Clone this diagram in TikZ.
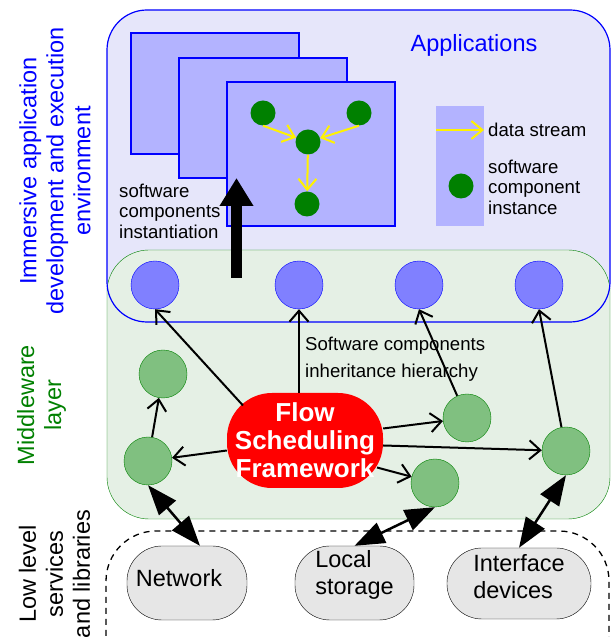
\documentclass[tikz,border=0pt]{standalone}
\usepackage{fontspec}
\setmainfont{Liberation Sans}
\usepackage{xcolor}
\usepackage{tikz}
\usetikzlibrary{arrows.meta}

\definecolor{appbg}{RGB}{230,230,250}
\definecolor{midbg}{RGB}{229,240,229}
\definecolor{winfill}{RGB}{179,179,255}
\definecolor{clsfill}{RGB}{128,128,255}
\definecolor{instfill}{RGB}{128,192,128}
\definecolor{dkgreen}{RGB}{0,128,0}
\definecolor{pillfill}{RGB}{230,230,230}

\newcommand\lblfont{\fontsize{23.5}{27}\selectfont}
\newcommand\txtfont{\fontsize{18.6}{20.5}\selectfont}
\newcommand\inhfont{\fontsize{18.6}{27}\selectfont}
\newcommand\fsffont{\fontsize{26}{28}\selectfont\bfseries}

\begin{document}
\begin{tikzpicture}[x=1pt,y=1pt,
cls/.style={circle,draw=blue,fill=clsfill,minimum size=48pt,inner sep=0pt},
inst/.style={circle,draw=dkgreen,fill=instfill,minimum size=48pt,inner sep=0pt},
dot/.style={circle,fill=dkgreen,minimum size=25pt,inner sep=0pt},
win/.style={draw=blue,line width=2pt,fill=winfill},
pill/.style={draw,fill=pillfill,rounded corners=35pt,minimum height=74pt,inner sep=0pt},
pilltext/.style={align=left,inner sep=0pt,font=\lblfont},
txt/.style={inner sep=0pt,font=\txtfont},
lbl/.style={rotate=90,align=center,inner sep=0pt,font=\lblfont},
inh/.style={-{Straight Barb[length=11pt,width=19pt]},line width=2pt},
flow/.style={-{Straight Barb[length=11pt,width=18pt]},yellow,line width=2pt},
io/.style={{Triangle[length=30pt,width=22pt]}-{Triangle[length=30pt,width=22pt]},line width=2.5pt}]
\useasboundingbox (0,0) rectangle (611,637);
% layers
\fill[appbg,rounded corners=40pt] (107,315) rectangle (610,627);
\draw[dkgreen,fill=midbg,rounded corners=42pt] (107,118) rectangle (610,387);
\draw[blue,line width=1.2pt,rounded corners=40pt] (107,315) rectangle (610,627);
\draw[line width=1.3pt,dash pattern=on 6pt off 5pt,rounded corners=50pt] (106,-60) rectangle (609,106);
\node[lbl,blue] (env) at (55,466) {Immersive application\\development and execution\\environment};
\node[lbl,dkgreen] (mw) at (41.5,232) {Middleware\\layer};
\node[lbl] (llv) at (54.5,63) {Low level\\services\\and libraries};
% applications
\draw[win] (131,483) rectangle (299,604);
\draw[win] (179,459) rectangle (347,579);
\draw[win] (227,411) rectangle (395,555);
\node[blue,inner sep=0pt,font=\lblfont] (apps) at (474,592) {Applications};
\node[dot] (d1) at (263,524) {};
\node[dot] (d2) at (359,524) {};
\node[dot] (d3) at (308,495) {};
\node[dot] (d4) at (307,433) {};
\draw[flow] (d1.south) -- (d3);
\draw[flow] (d2.south) -- (d3);
\draw[flow] (d3) -- (d4);
% legend
\fill[winfill] (436,411) rectangle (484,531);
\coordinate (ls) at (436,507);
\coordinate (le) at (484,507);
\draw[flow] (ls) -- (le);
\node[txt,anchor=west] (lds) at (488,507) {data stream};
\node[dot] (ld) at (461,451) {};
\node[txt,anchor=west,align=left] (lsc) at (488,450) {software\\component\\instance};
% instantiation
\node[txt,anchor=west,align=left] (instn) at (119,426) {software\\components\\instantiation};
\coordinate (ib) at (236.5,359);
\coordinate (it) at (236.5,459);
\draw[-{Triangle[length=28pt,width=32pt]},line width=11pt] (ib) -- (it);
% middleware
\node[cls] (b1) at (155,352) {};
\node[cls] (b2) at (299,352) {};
\node[cls] (b3) at (419,352) {};
\node[cls] (b4) at (539,352) {};
\node[inst] (g1) at (163,263) {};
\node[inst] (g2) at (148,176) {};
\node[inst] (g3) at (467,219) {};
\node[inst] (g4) at (566,186) {};
\node[inst] (g5) at (435,154) {};
\node[txt,anchor=west,align=left,font=\inhfont] (inh) at (305,277.5) {Software components\\inheritance hierarchy};
\node[fill=red,text=white,rounded corners=45pt,minimum width=156pt,minimum height=95pt,inner sep=0pt,align=center,font=\fsffont] (fsf) at (305,196.5) {Flow\\Scheduling\\Framework};
\draw[inh] ([shift={(-62,35)}]fsf.center) -- (b1.south);
\draw[inh] (b2 |- fsf.north) -- (b2.south);
\draw[inh] (g3) -- (b3.south);
\draw[inh] (g4) -- (b4.south);
\draw[inh] ([yshift=12pt]fsf.east) -- (g3);
\draw[inh] ([yshift=-5pt]fsf.east) -- (g4);
\draw[inh] ([shift={(72,-27)}]fsf.center) -- (g5);
\draw[inh] ([yshift=-10pt]fsf.west) -- (g2);
\draw[inh] (g2) -- (g1);
% low level services
\node[pill,minimum width=120pt,label={[pilltext,shift={(-8,5)}]center:Network}] (net) at (187,54) {};
\node[pill,minimum width=119pt,label={[pilltext,yshift=8pt]center:Local\\storage}] (loc) at (354.5,54) {};
\node[pill,minimum width=144pt,minimum height=71pt,label={[pilltext,yshift=7pt]center:Interface\\devices}] (dev) at (519,53.5) {};
\draw[io] (g2.south) -- ([xshift=13pt]net.north);
\draw[io] (g5.south) -- (loc.north);
\draw[io] (g4.south) -- (dev.north);
\end{tikzpicture}
\end{document}
